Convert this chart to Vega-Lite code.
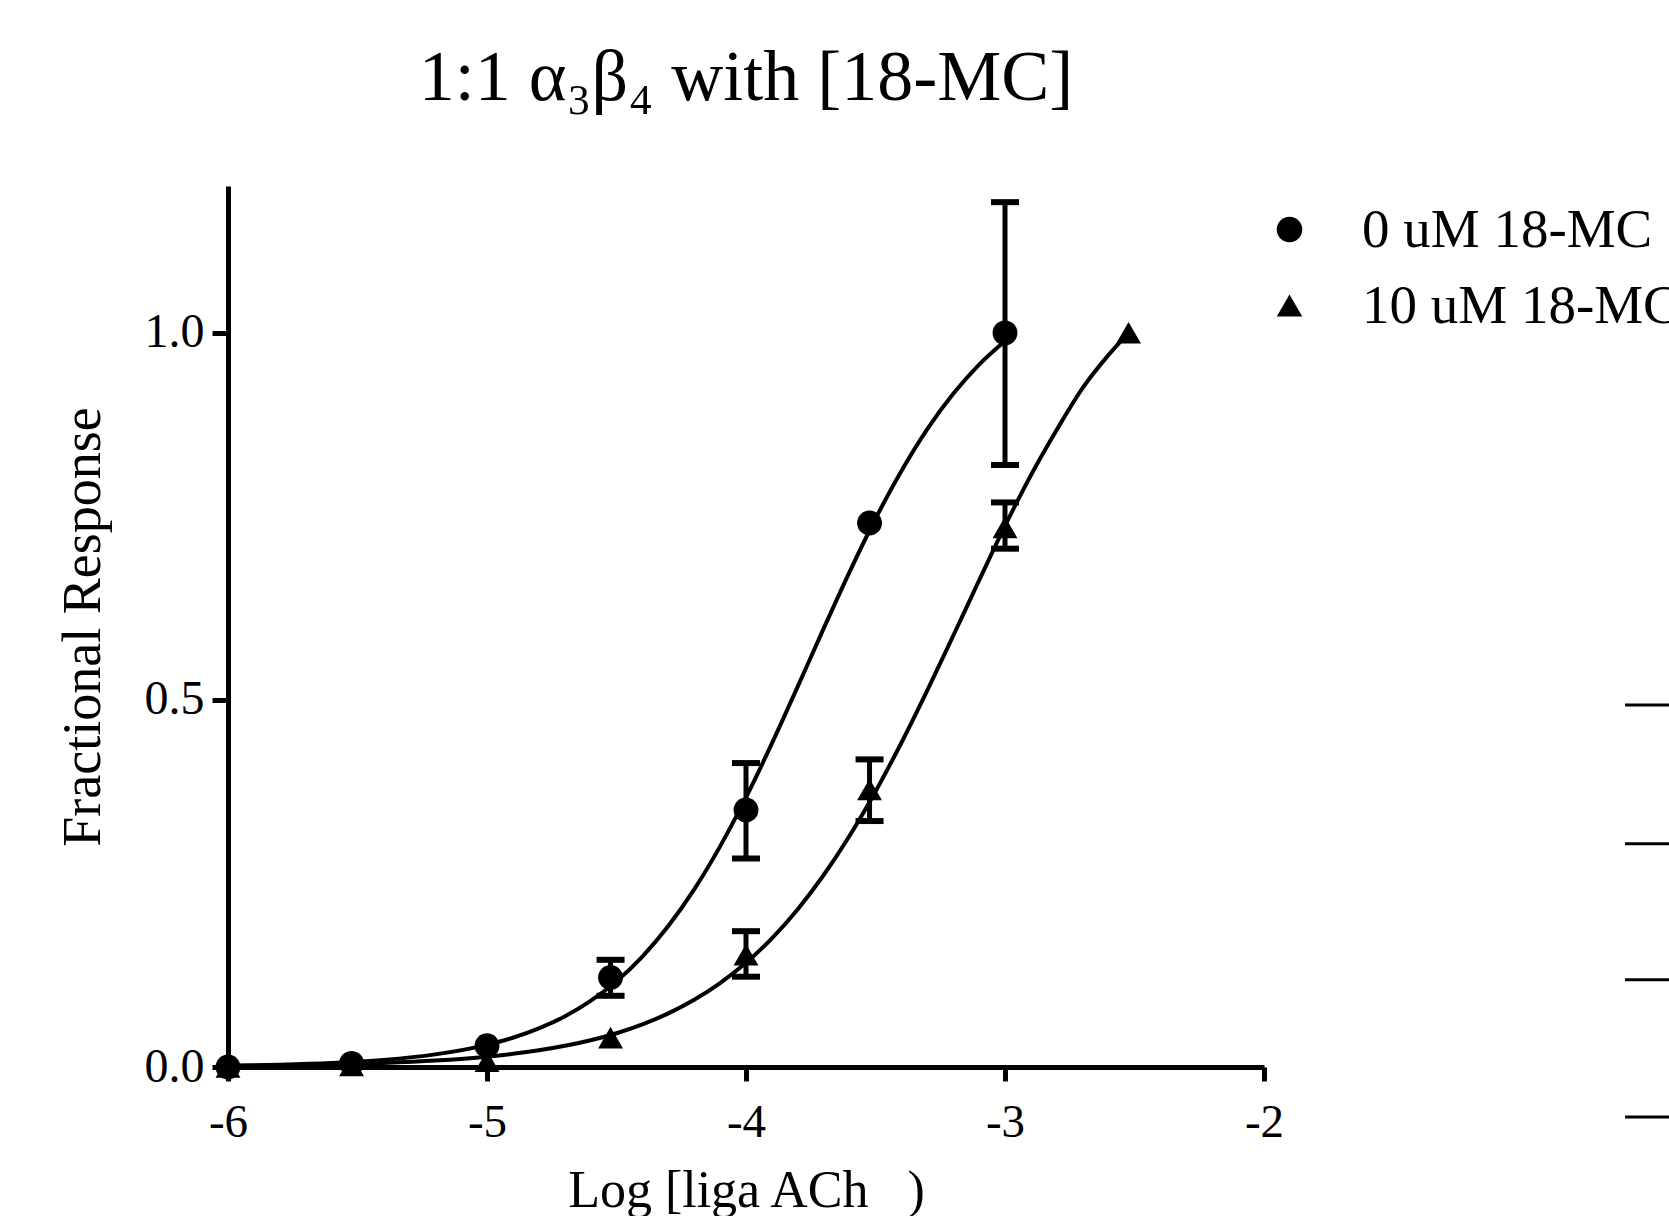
{
  "$schema": "https://vega.github.io/schema/vega-lite/v6.json",
  "width": 1036,
  "height": 881,
  "autosize": {"type": "none"},
  "padding": {"left": 228, "top": 186, "right": 405, "bottom": 149},
  "background": "white",
  "config": {
    "font": "Liberation Serif",
    "view": {"stroke": null},
    "axis": {
      "labelFont": "Liberation Serif",
      "titleFont": "Liberation Serif",
      "labelColor": "black",
      "titleColor": "black",
      "domainColor": "black",
      "tickColor": "black",
      "domainWidth": 5,
      "tickWidth": 5,
      "grid": false,
      "titleFontWeight": "normal",
      "labelFlush": false
    }
  },
  "title": {
    "text": "1:1 α₃β₄ with [18-MC]",
    "font": "Liberation Serif",
    "fontSize": 72,
    "fontWeight": "normal",
    "color": "black",
    "anchor": "middle",
    "baseline": "alphabetic",
    "offset": 14
  },
  "datasets": {
    "points": [
      {"series": "0 uM 18-MC", "logc": -6, "resp": 0.0, "lo": null, "hi": null},
      {"series": "0 uM 18-MC", "logc": -5.523, "resp": 0.005, "lo": null, "hi": null},
      {"series": "0 uM 18-MC", "logc": -5, "resp": 0.029, "lo": null, "hi": null},
      {"series": "0 uM 18-MC", "logc": -4.523, "resp": 0.122, "lo": 0.097, "hi": 0.146},
      {"series": "0 uM 18-MC", "logc": -4, "resp": 0.35, "lo": 0.284, "hi": 0.414},
      {"series": "0 uM 18-MC", "logc": -3.523, "resp": 0.741, "lo": null, "hi": null},
      {"series": "0 uM 18-MC", "logc": -3, "resp": 1.0, "lo": 0.82, "hi": 1.178},
      {"series": "10 uM 18-MC", "logc": -6, "resp": 0.0, "lo": null, "hi": null},
      {"series": "10 uM 18-MC", "logc": -5.523, "resp": 0.002, "lo": null, "hi": null},
      {"series": "10 uM 18-MC", "logc": -5, "resp": 0.008, "lo": null, "hi": null},
      {"series": "10 uM 18-MC", "logc": -4.523, "resp": 0.04, "lo": null, "hi": null},
      {"series": "10 uM 18-MC", "logc": -4, "resp": 0.153, "lo": 0.123, "hi": 0.185},
      {"series": "10 uM 18-MC", "logc": -3.523, "resp": 0.378, "lo": 0.335, "hi": 0.419},
      {"series": "10 uM 18-MC", "logc": -3, "resp": 0.735, "lo": 0.706, "hi": 0.769},
      {"series": "10 uM 18-MC", "logc": -2.523, "resp": 1.0, "lo": null, "hi": null}
    ],
    "curves": [
      {"series": "0 uM 18-MC", "logc": -6.0, "resp": 0.0017},
      {"series": "0 uM 18-MC", "logc": -5.8, "resp": 0.0031},
      {"series": "0 uM 18-MC", "logc": -5.6, "resp": 0.0055},
      {"series": "0 uM 18-MC", "logc": -5.4, "resp": 0.0097},
      {"series": "0 uM 18-MC", "logc": -5.2, "resp": 0.0172},
      {"series": "0 uM 18-MC", "logc": -5.0, "resp": 0.0302},
      {"series": "0 uM 18-MC", "logc": -4.9, "resp": 0.0398},
      {"series": "0 uM 18-MC", "logc": -4.8, "resp": 0.0525},
      {"series": "0 uM 18-MC", "logc": -4.7, "resp": 0.0689},
      {"series": "0 uM 18-MC", "logc": -4.6, "resp": 0.09},
      {"series": "0 uM 18-MC", "logc": -4.5, "resp": 0.1168},
      {"series": "0 uM 18-MC", "logc": -4.4, "resp": 0.1505},
      {"series": "0 uM 18-MC", "logc": -4.3, "resp": 0.192},
      {"series": "0 uM 18-MC", "logc": -4.2, "resp": 0.2419},
      {"series": "0 uM 18-MC", "logc": -4.1, "resp": 0.3005},
      {"series": "0 uM 18-MC", "logc": -4.0, "resp": 0.3672},
      {"series": "0 uM 18-MC", "logc": -3.9, "resp": 0.4407},
      {"series": "0 uM 18-MC", "logc": -3.8, "resp": 0.5184},
      {"series": "0 uM 18-MC", "logc": -3.7, "resp": 0.5974},
      {"series": "0 uM 18-MC", "logc": -3.6, "resp": 0.6745},
      {"series": "0 uM 18-MC", "logc": -3.5, "resp": 0.7468},
      {"series": "0 uM 18-MC", "logc": -3.4, "resp": 0.8119},
      {"series": "0 uM 18-MC", "logc": -3.3, "resp": 0.8689},
      {"series": "0 uM 18-MC", "logc": -3.2, "resp": 0.9169},
      {"series": "0 uM 18-MC", "logc": -3.1, "resp": 0.9568},
      {"series": "0 uM 18-MC", "logc": -3.0, "resp": 0.989},
      {"series": "10 uM 18-MC", "logc": -6.0, "resp": 0.0013},
      {"series": "10 uM 18-MC", "logc": -5.8, "resp": 0.0021},
      {"series": "10 uM 18-MC", "logc": -5.6, "resp": 0.0033},
      {"series": "10 uM 18-MC", "logc": -5.4, "resp": 0.0054},
      {"series": "10 uM 18-MC", "logc": -5.2, "resp": 0.0087},
      {"series": "10 uM 18-MC", "logc": -5.0, "resp": 0.0141},
      {"series": "10 uM 18-MC", "logc": -4.8, "resp": 0.0227},
      {"series": "10 uM 18-MC", "logc": -4.6, "resp": 0.0364},
      {"series": "10 uM 18-MC", "logc": -4.5, "resp": 0.046},
      {"series": "10 uM 18-MC", "logc": -4.4, "resp": 0.058},
      {"series": "10 uM 18-MC", "logc": -4.3, "resp": 0.073},
      {"series": "10 uM 18-MC", "logc": -4.2, "resp": 0.0915},
      {"series": "10 uM 18-MC", "logc": -4.1, "resp": 0.1143},
      {"series": "10 uM 18-MC", "logc": -4.0, "resp": 0.1419},
      {"series": "10 uM 18-MC", "logc": -3.9, "resp": 0.1753},
      {"series": "10 uM 18-MC", "logc": -3.8, "resp": 0.215},
      {"series": "10 uM 18-MC", "logc": -3.7, "resp": 0.2615},
      {"series": "10 uM 18-MC", "logc": -3.6, "resp": 0.315},
      {"series": "10 uM 18-MC", "logc": -3.5, "resp": 0.3753},
      {"series": "10 uM 18-MC", "logc": -3.4, "resp": 0.4417},
      {"series": "10 uM 18-MC", "logc": -3.3, "resp": 0.513},
      {"series": "10 uM 18-MC", "logc": -3.2, "resp": 0.5874},
      {"series": "10 uM 18-MC", "logc": -3.1, "resp": 0.6627},
      {"series": "10 uM 18-MC", "logc": -3.0, "resp": 0.737},
      {"series": "10 uM 18-MC", "logc": -2.9, "resp": 0.806},
      {"series": "10 uM 18-MC", "logc": -2.8, "resp": 0.868},
      {"series": "10 uM 18-MC", "logc": -2.7, "resp": 0.925},
      {"series": "10 uM 18-MC", "logc": -2.6, "resp": 0.97},
      {"series": "10 uM 18-MC", "logc": -2.523, "resp": 1.0}
    ],
    "neighbor_ticks": [
      {"x1": -0.606, "x2": -0.4, "y": 0.493},
      {"x1": -0.606, "x2": -0.4, "y": 0.304},
      {"x1": -0.606, "x2": -0.4, "y": 0.119},
      {"x1": -0.606, "x2": -0.4, "y": -0.068}
    ]
  },
  "layer": [
    {
      "data": {"name": "curves"},
      "mark": {"type": "line", "color": "black", "strokeWidth": 4, "interpolate": "monotone"},
      "encoding": {
        "x": {
          "field": "logc", "type": "quantitative",
          "scale": {"domain": [-6, -2], "nice": false, "zero": false},
          "axis": {
            "values": [-6, -5, -4, -3, -2],
            "labelExpr": "'' + datum.value",
            "labelFontSize": 47,
            "labelPadding": 18,
            "tickSize": 14,
            "title": "Log [liga ACh\u00a0\u00a0 )",
            "titleFontSize": 52,
            "titlePadding": 20
          }
        },
        "y": {
          "field": "resp", "type": "quantitative",
          "scale": {"domain": [0, 1.2], "nice": false, "zero": false},
          "axis": {
            "values": [0, 0.5, 1.0],
            "format": ".1f",
            "labelFontSize": 48,
            "labelPadding": 8,
            "tickSize": 16,
            "title": "Fractional Response",
            "titleFontSize": 54,
            "titlePadding": 34
          }
        },
        "detail": {"field": "series"}
      }
    },
    {
      "data": {"name": "points"},
      "transform": [{"filter": "datum.lo != null"}],
      "mark": {"type": "rule", "color": "black", "strokeWidth": 5},
      "encoding": {
        "x": {"field": "logc", "type": "quantitative"},
        "y": {"field": "lo", "type": "quantitative"},
        "y2": {"field": "hi"}
      }
    },
    {
      "data": {"name": "points"},
      "transform": [{"filter": "datum.lo != null"}],
      "mark": {"type": "tick", "orient": "horizontal", "color": "black", "size": 28, "thickness": 6, "opacity": 1},
      "encoding": {
        "x": {"field": "logc", "type": "quantitative"},
        "y": {"field": "lo", "type": "quantitative"}
      }
    },
    {
      "data": {"name": "points"},
      "transform": [{"filter": "datum.lo != null"}],
      "mark": {"type": "tick", "orient": "horizontal", "color": "black", "size": 28, "thickness": 6, "opacity": 1},
      "encoding": {
        "x": {"field": "logc", "type": "quantitative"},
        "y": {"field": "hi", "type": "quantitative"}
      }
    },
    {
      "data": {"name": "points"},
      "mark": {"type": "point", "filled": true, "color": "black", "opacity": 1, "size": 620},
      "encoding": {
        "x": {"field": "logc", "type": "quantitative"},
        "y": {"field": "resp", "type": "quantitative"},
        "shape": {
          "field": "series", "type": "nominal",
          "scale": {"domain": ["0 uM 18-MC", "10 uM 18-MC"], "range": ["circle", "triangle-up"]},
          "legend": {
            "title": null,
            "orient": "none",
            "legendX": 1034,
            "legendY": 16,
            "padding": 0,
            "labelFont": "Liberation Serif",
            "labelFontSize": 55,
            "labelColor": "black",
            "labelLimit": 0,
            "labelOffset": 45,
            "rowPadding": 20,
            "symbolSize": 650,
            "symbolFillColor": "black",
            "symbolStrokeColor": "black",
            "symbolOpacity": 1
          }
        }
      }
    },
    {
      "data": {"name": "neighbor_ticks"},
      "mark": {"type": "rule", "color": "black", "strokeWidth": 3, "clip": false},
      "encoding": {
        "x": {"field": "x1", "type": "quantitative"},
        "x2": {"field": "x2"},
        "y": {"field": "y", "type": "quantitative"}
      }
    }
  ]
}
